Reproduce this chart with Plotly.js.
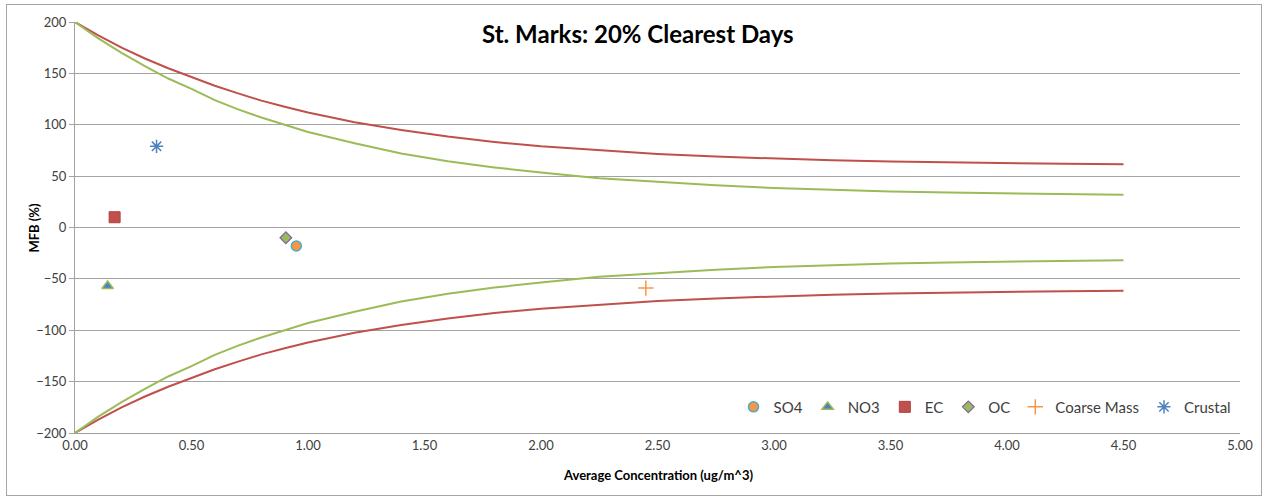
<!DOCTYPE html>
<html>
<head>
<meta charset="utf-8">
<script src="https://cdn.plot.ly/plotly-3.0.1.min.js"></script>
<style>
  html, body { margin: 0; padding: 0; background: #fff; }
  #wrap { position: relative; width: 1270px; height: 501px; }
  #chart { width: 1270px; height: 501px; }
  #frame { position: absolute; left: 6px; top: 4px; width: 1256px; height: 492px;
           border: 1px solid #a6a6a6; pointer-events: none; box-sizing: border-box; }
</style>
</head>
<body>
<div id="wrap"><div id="chart"></div><div id="frame"></div></div>
<script>
// Performance curves
const curveX        = [0, 0.1, 0.2, 0.3, 0.4, 0.5, 0.6, 0.7, 0.8, 0.9, 1.0, 1.2, 1.4, 1.6, 1.8, 2.0, 2.25, 2.5, 2.75, 3.0, 3.25, 3.5, 3.75, 4.0, 4.25, 4.5];
const goalUpper     = [200, 184, 170, 157, 145, 135, 124, 115, 107, 100, 93, 82, 72, 64.5, 58.5, 53.5, 48, 44.5, 41, 38.5, 36.6, 35.1, 34.0, 33.1, 32.4, 31.9];
const goalLower     = [-200, -184, -170, -157, -145, -135, -124, -115, -107, -100, -93, -82, -72, -64.5, -58.5, -53.5, -48, -44.5, -41, -38.5, -36.6, -35.1, -34.0, -33.1, -32.4, -31.9];
const criteriaUpper = [200, 187, 175, 164.5, 155, 146.5, 138, 130.5, 123.5, 117.5, 112, 102.5, 95, 88.5, 83.3, 79, 75, 71.5, 69, 67.0, 65.4, 64.2, 63.3, 62.6, 62.0, 61.6];
const criteriaLower = [-200, -187, -175, -164.5, -155, -146.5, -138, -130.5, -123.5, -117.5, -112, -102.5, -95, -88.5, -83.3, -79, -75, -71.5, -69, -67.0, -65.4, -64.2, -63.3, -62.6, -62.0, -61.6];

// Species points
const species   = ["SO4", "NO3", "EC", "OC", "Coarse Mass", "Crustal"];
const speciesX  = [0.95, 0.14, 0.17, 0.905, 2.45, 0.35];
const speciesY  = [-18, -57, 10, -10, -59, 79];

// Text
const chartTitle = "St. Marks: 20% Clearest Days";
const xTitle = "Average Concentration (ug/m^3)";
const yTitle = "MFB (%)";

const red = "#c0504d", green = "#9bbb59";
const markerStyles = [
  {symbol: "circle", color: "#f79646", size: 10, line: {color: "#4bacc6", width: 1.5}},
  {symbol: "triangle-up", color: "#4f81bd", size: 10, line: {color: "#9bbb59", width: 1.5}},
  {symbol: "square", color: "#c0504d", size: 11, line: {color: "#b0403d", width: 1}},
  {symbol: "diamond", color: "#9bbb59", size: 9, line: {color: "#8064a2", width: 1.2}},
  {symbol: "cross-thin-open", color: "#f79646", size: 11, line: {color: "#f79646", width: 1.5}},
  {symbol: "asterisk-open", color: "#4f81bd", size: 11, line: {color: "#4f81bd", width: 1.5}}
];

const traces = [
  {x: curveX, y: criteriaUpper, mode: "lines", line: {color: red, width: 2}, showlegend: false, hoverinfo: "skip"},
  {x: curveX, y: criteriaLower, mode: "lines", line: {color: red, width: 2}, showlegend: false, hoverinfo: "skip"},
  {x: curveX, y: goalUpper, mode: "lines", line: {color: green, width: 2}, showlegend: false, hoverinfo: "skip"},
  {x: curveX, y: goalLower, mode: "lines", line: {color: green, width: 2}, showlegend: false, hoverinfo: "skip"}
];
species.forEach((name, i) => {
  const m = markerStyles[i];
  traces.push({
    x: [speciesX[i]], y: [speciesY[i]], name: name, mode: "markers", type: "scatter",
    marker: {symbol: m.symbol, color: m.color, size: m.size, line: m.line}
  });
});

const font = "Lato, 'Open Sans', 'Liberation Sans', sans-serif";
const layout = {
  width: 1270, height: 501,
  margin: {l: 75, r: 30, t: 22, b: 68},
  paper_bgcolor: "#fff", plot_bgcolor: "#fff",
  font: {family: font, color: "#404040", size: 13},
  xaxis: {
    range: [0, 5], dtick: 0.5, tick0: 0, tickformat: ".2f",
    showgrid: false, zeroline: false, showline: true, linecolor: "#a0a0a0", linewidth: 1,
    ticks: "", tickfont: {size: 13, color: "#404040"}
  },
  yaxis: {
    range: [-200, 200], dtick: 50, tick0: -200,
    showgrid: true, gridcolor: "#a3a3a3", gridwidth: 1,
    zeroline: true, zerolinecolor: "#a3a3a3", zerolinewidth: 1,
    showline: true, linecolor: "#a3a3a3", linewidth: 1,
    ticks: "outside", ticklen: 5, tickcolor: "#a3a3a3",
    tickfont: {size: 13, color: "#404040"}
  },
  legend: {
    orientation: "h", x: 0.997, xanchor: "right", y: 0.063, yanchor: "middle",
    bgcolor: "rgba(255,255,255,0)", font: {size: 15, color: "#404040"},
    itemwidth: 30, tracegroupgap: 0
  },
  annotations: [
    {
      text: chartTitle, xref: "paper", yref: "paper",
      x: 0.483, y: 0.973, xanchor: "center", yanchor: "middle", showarrow: false,
      font: {size: 24, color: "#000", family: font, weight: "bold"},
      bgcolor: "#fff", borderpad: 4
    },
    {
      text: xTitle, xref: "paper", yref: "paper",
      x: 0.5, y: -0.102, xanchor: "center", yanchor: "middle", showarrow: false,
      font: {size: 13, color: "#000", family: font, weight: "bold"}
    },
    {
      text: yTitle, xref: "paper", yref: "paper", textangle: -90,
      x: -0.036, y: 0.5, xanchor: "center", yanchor: "middle", showarrow: false,
      font: {size: 13, color: "#000", family: font, weight: "bold"}
    }
  ],
  showlegend: true
};

Plotly.newPlot("chart", traces, layout, {displayModeBar: false, staticPlot: true});
</script>
</body>
</html>
